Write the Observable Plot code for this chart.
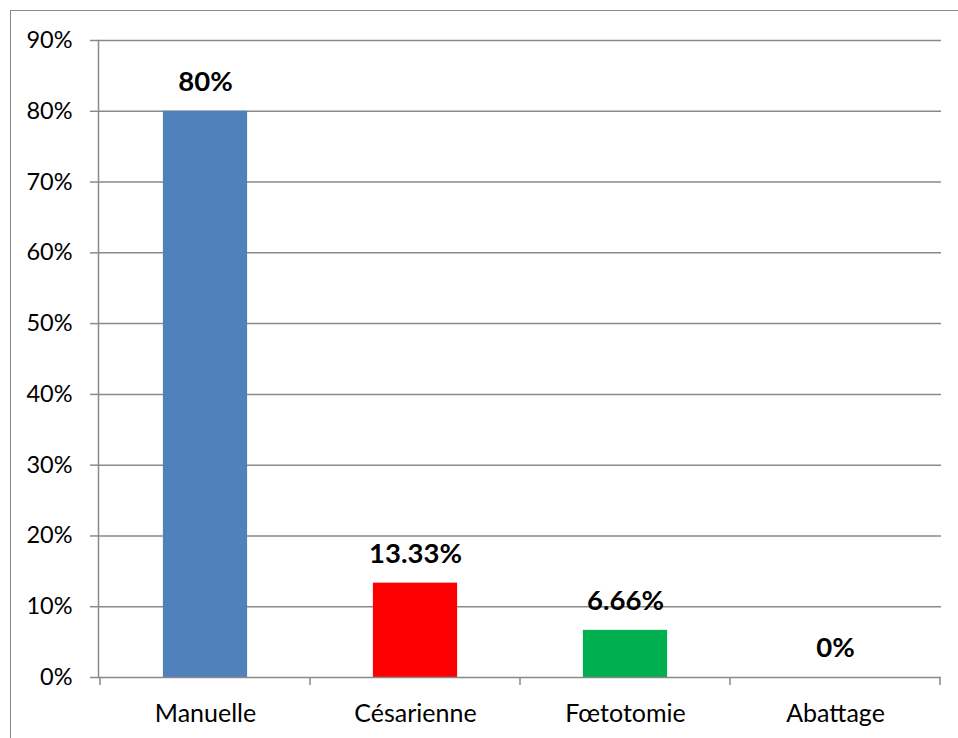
<!DOCTYPE html>
<html>
<head>
<meta charset="utf-8">
<script src="https://cdn.jsdelivr.net/npm/d3@7"></script>
<script src="https://cdn.jsdelivr.net/npm/@observablehq/plot@0.6"></script>
<style>
  html, body { margin: 0; padding: 0; background: #fff; overflow: hidden; }
  body { width: 958px; height: 738px; position: relative; }
  #border { position: absolute; left: 10px; top: 10px; width: 1000px; height: 800px;
    border-left: 1.5px solid #8a8a8a; border-top: 1.5px solid #8a8a8a; box-sizing: border-box; }
  #chart { position: absolute; left: 0; top: 0; }
</style>
</head>
<body>
<div id="border"></div>
<div id="chart"></div>
<script>
const categories = ["Manuelle", "Césarienne", "Fœtotomie", "Abattage"];
const values = [0.80, 0.1333, 0.0666, 0];
const valueLabels = ["80%", "13.33%", "6.66%", "0%"];
const barColors = ["#4F81BD", "#FF0000", "#00B050", "#7F7F7F"];
const yTicks = [0, 0.1, 0.2, 0.3, 0.4, 0.5, 0.6, 0.7, 0.8, 0.9];

const data = categories.map((c, i) => ({cat: c, value: values[i], label: valueLabels[i], color: barColors[i]}));
const gridColor = "#8a8a8a";
const font = "Lato, 'Open Sans', sans-serif";

// category boundary ticks drawn from the x band scale
function categoryTicks(index, scales, values_, dimensions) {
  const x = scales.x;
  const bw = x.bandwidth();
  const y0 = scales.y(0);
  const g = d3.create("svg:g").attr("stroke", gridColor).attr("stroke-width", 1.5);
  const xs = categories.map(c => x(c));
  xs.push(x(categories[categories.length - 1]) + bw);
  for (const px of xs) {
    g.append("line").attr("x1", px).attr("x2", px).attr("y1", y0).attr("y2", y0 + 8);
  }
  return g.node();
}

const chart = Plot.plot({
  width: 958,
  height: 738,
  marginLeft: 98,
  marginRight: 17,
  marginTop: 40,
  marginBottom: 61,
  style: {fontFamily: font, background: "transparent", overflow: "visible"},
  x: {domain: categories, padding: 0, axis: null},
  y: {domain: [0, 0.9], axis: null},
  marks: [
    Plot.ruleY(yTicks.filter(d => d > 0), {stroke: gridColor, strokeWidth: 1.5}),
    Plot.barY(data, {x: "cat", y: "value", fill: "color", insetLeft: 62.9, insetRight: 62.9}),
    Plot.axisY({ticks: yTicks, tickFormat: d3.format(".0%"), tickSize: 8, tickPadding: 18,
      stroke: gridColor, strokeWidth: 1.5, strokeOpacity: 1, fontSize: 23.5, fill: "#000", label: null}),
    Plot.frame({anchor: "left", stroke: gridColor, strokeWidth: 1.5}),
    Plot.ruleY([0], {stroke: gridColor, strokeWidth: 1.5}),
    categoryTicks,
    Plot.text(data, {x: "cat", y: 0, text: "cat", dy: 36, fontSize: 25, fill: "#000", lineAnchor: "middle"}),
    Plot.text(data, {x: "cat", y: "value", text: "label", dy: -29, fontSize: 27.5, fontWeight: "bold", fill: "#000", lineAnchor: "middle"})
  ]
});
document.getElementById("chart").appendChild(chart);
</script>
</body>
</html>
